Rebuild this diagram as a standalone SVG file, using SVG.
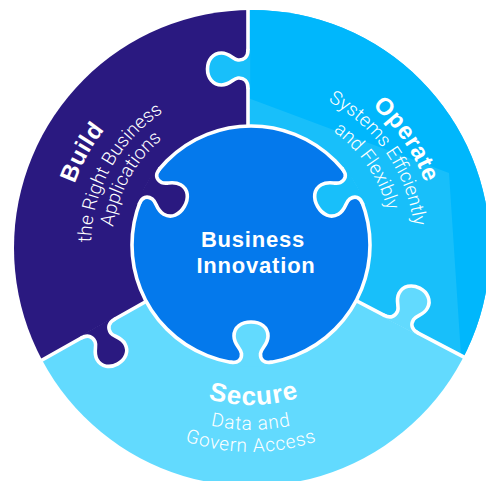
<svg xmlns="http://www.w3.org/2000/svg" width="486" height="481" viewBox="0 0 486 481">
<style>
.seam{fill:none;stroke:#fff;stroke-width:3.6;stroke-linejoin:round;stroke-linecap:round}
.t{font-family:"Liberation Sans",Arial,sans-serif;font-weight:700;fill:#fff}
.title{font-size:24px;letter-spacing:0.5px}
.big{font-size:26px;letter-spacing:1px}
.s{font-family:Roboto,"Liberation Sans",sans-serif;font-weight:300;fill:#fff;font-size:19px}
.wide{letter-spacing:0.8px}
.hub{font-size:22px;letter-spacing:0.8px}
</style>
<defs>
<clipPath id="disc"><circle cx="252" cy="248" r="238"/></clipPath>
<path id="kL" d="M -19 0 C -12 0 -8.5 -4 -9 -10 C -9.5 -15 -16 -18 -16 -26.5 C -16 -35 -9 -40.5 0 -40.5 C 9 -40.5 16 -35 16 -26.5 C 16 -18 9.5 -15 9 -10 C 8.5 -4 12 0 19 0"/>
<path id="kLf" d="M -19 0 C -12 0 -8.5 -4 -9 -10 C -9.5 -15 -16 -18 -16 -26.5 C -16 -35 -9 -40.5 0 -40.5 C 9 -40.5 16 -35 16 -26.5 C 16 -18 9.5 -15 9 -10 C 8.5 -4 12 0 19 0 L 19 2.2 L -19 2.2 Z"/>
<path id="kC" d="M -20 -1.7 C -13 -0.7 -9 -4 -9.5 -10.5 C -10 -16 -17 -19 -17 -28 C -17 -37 -9.5 -42 0 -42 C 9.5 -42 17 -37 17 -28 C 17 -19 10 -16 9.5 -10.5 C 9 -4 13 -0.7 20 -1.7"/>
<path id="kCf" d="M -20 -1.7 C -13 -0.7 -9 -4 -9.5 -10.5 C -10 -16 -17 -19 -17 -28 C -17 -37 -9.5 -42 0 -42 C 9.5 -42 17 -37 17 -28 C 17 -19 10 -16 9.5 -10.5 C 9 -4 13 -0.7 20 -1.7 L 20 2.2 L -20 2.2 Z"/>
<path id="aB1" d="M 90.7 342.3 A 187 187 0 0 1 247.7 59"/>
<path id="aB2" d="M 113.8 328.4 A 160 160 0 0 1 248.2 86"/>
<path id="aB3" d="M 131.8 317.6 A 139 139 0 0 1 248.6 107"/>
<path id="aO1" d="M 236.5 61.6 A 185 185 0 0 1 418 325.6"/>
<path id="aO2" d="M 238.1 82.5 A 164 164 0 0 1 399 316.6"/>
<path id="aO3" d="M 239.9 105.4 A 141 141 0 0 1 378.3 306.7"/>
<path id="aS1" d="M 113.3 325.5 A 159 159 0 0 0 388.7 325.5"/>
<path id="aS2" d="M 91.7 338 A 184 184 0 0 0 410.3 338"/>
<path id="aS3" d="M 72.6 349 A 206 206 0 0 0 429.4 349"/>
</defs>

<g id="ring" clip-path="url(#disc)">
  <polygon id="build-piece" fill="#2A1980" points="248,244 248,-20 -40,-20 -40,406.3"/>
  <polygon id="operate-piece" fill="#18BFFA" points="248,244 248,-20 540,-20 540,396.9"/>
  <polygon id="operate-shade" fill="#00B7FC" points="248,-20 248,98 449,173 461,355.6 540,396.9 540,-20"/>
  <polygon id="secure-piece" fill="#62DAFE" points="248,244 540,396.9 540,540 -40,540 -40,406.3"/>
</g>

<g id="seams">
  <path class="seam" d="M248 244 V-20 M248 244 L540 396.9 M248 244 L-40 406.3"/>
  <use href="#kLf" fill="#18BFFA" transform="translate(248,69) rotate(-90)"/>
  <use href="#kL" class="seam" transform="translate(248,69) rotate(-90)"/>
  <use href="#kLf" fill="#2A1980" transform="translate(98,328.6) rotate(150.6)"/>
  <use href="#kL" class="seam" transform="translate(98,328.6) rotate(150.6)"/>
  <use href="#kLf" fill="#62DAFE" transform="translate(401,324.1) rotate(27.6)"/>
  <use href="#kL" class="seam" transform="translate(401,324.1) rotate(27.6)"/>
</g>

<g id="innovation">
  <circle cx="251" cy="245" r="119" fill="#0479EC" stroke="#fff" stroke-width="3.6"/>
  <use href="#kCf" fill="#2A1980" transform="translate(147.94,185.5) rotate(120)"/>
  <use href="#kC" class="seam" transform="translate(147.94,185.5) rotate(120)"/>
  <use href="#kCf" fill="#18BFFA" transform="translate(354.06,185.5) rotate(-120)"/>
  <use href="#kC" class="seam" transform="translate(354.06,185.5) rotate(-120)"/>
  <use href="#kCf" fill="#62DAFE" transform="translate(251,364)"/>
  <use href="#kC" class="seam" transform="translate(251,364)"/>
  <text class="t hub" x="253" y="247" text-anchor="middle">Business</text>
  <text class="t hub" x="256" y="273" text-anchor="middle">Innovation</text>
</g>

<g id="label-build">
  <text class="t title"><textPath href="#aB1" startOffset="50%" text-anchor="middle">Build</textPath></text>
  <text class="s"><textPath href="#aB2" startOffset="50%" text-anchor="middle">the Right Business</textPath></text>
  <text class="s"><textPath href="#aB3" startOffset="50%" text-anchor="middle">Applications</textPath></text>
</g>

<g id="label-operate">
  <text class="t title"><textPath href="#aO1" startOffset="50%" text-anchor="middle">Operate</textPath></text>
  <text class="s"><textPath href="#aO2" startOffset="50%" text-anchor="middle">Systems Efficiently</textPath></text>
  <text class="s"><textPath href="#aO3" startOffset="50%" text-anchor="middle">and Flexibly</textPath></text>
</g>

<g id="label-secure">
  <text class="t big"><textPath href="#aS1" startOffset="50.9%" text-anchor="middle">Secure</textPath></text>
  <text class="s wide"><textPath href="#aS2" startOffset="50%" text-anchor="middle">Data and</textPath></text>
  <text class="s wide"><textPath href="#aS3" startOffset="50%" text-anchor="middle">Govern Access</textPath></text>
</g>
</svg>
